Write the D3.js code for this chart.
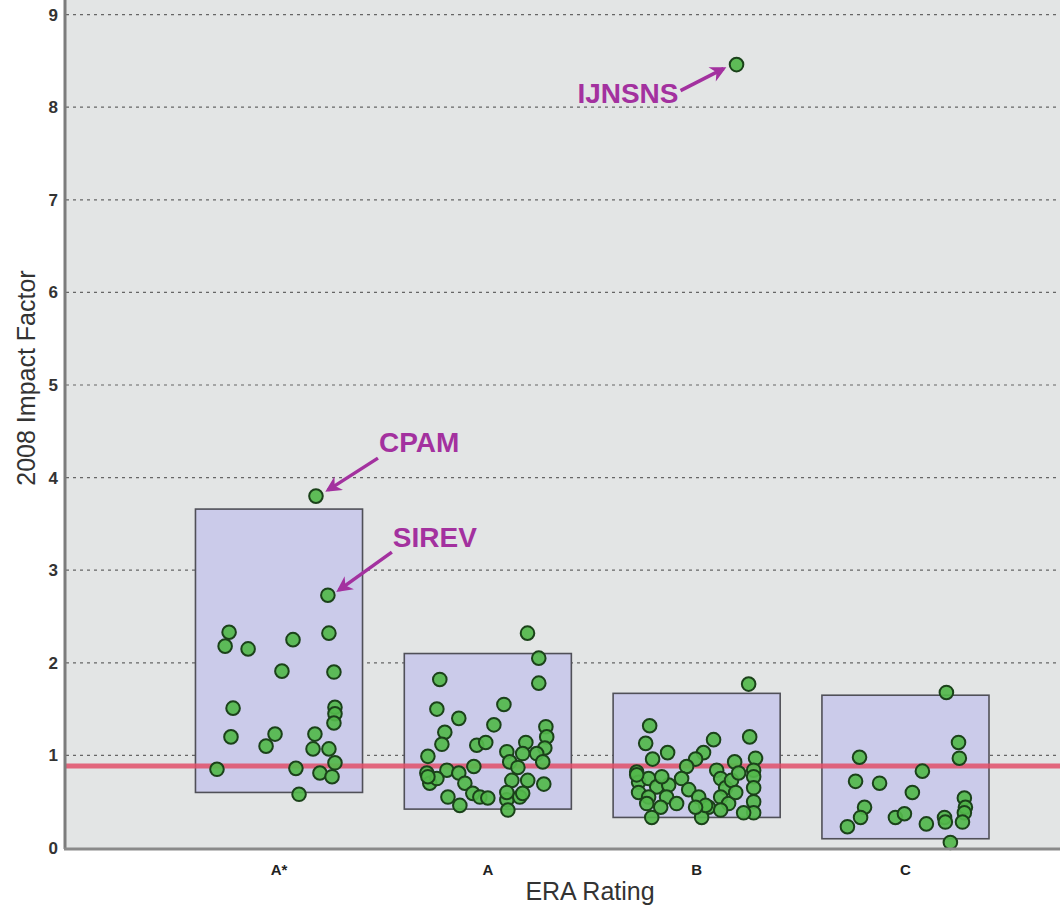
<!DOCTYPE html>
<html>
<head>
<meta charset="utf-8">
<script src="https://cdn.jsdelivr.net/npm/d3@7"></script>
<style>
    body { margin: 0; background: #fff; }
    svg { display: block; font-family: "Liberation Sans", Arial, sans-serif; }
    .gridLines { stroke: #666; stroke-width: 1.2; stroke-dasharray: 3,4; }
    .tickLabel { font-size: 17px; font-weight: bold; fill: #333; }
    .catLabel { font-size: 15px; font-weight: bold; fill: #222; }
    .axisTitle { font-size: 25px; fill: #333; }
    .note { font-size: 28px; font-weight: bold; fill: #a3319f; }
</style>
</head>
<body>
<script>
(function(){

    //categories and tick labels
    var categories = ["A*", "A", "B", "C"];
    var yTicks = [0, 1, 2, 3, 4, 5, 6, 7, 8, 9];

    //box range per category
    var boxLow = [0.60, 0.42, 0.33, 0.10];
    var boxHigh = [3.66, 2.10, 1.67, 1.65];

    //reference line (overall value)
    var refLine = 0.885;

    //journals per category: [jitter, impact factor]
    var ptsAStar = [
        [0.177, 3.80], [0.234, 2.73], [-0.239, 2.33], [-0.258, 2.18], [-0.148, 2.15],
        [0.067, 2.25], [0.239, 2.32], [0.014, 1.91], [0.263, 1.90], [-0.220, 1.51],
        [0.268, 1.52], [0.268, 1.45], [0.263, 1.35], [-0.230, 1.20], [-0.019, 1.23],
        [-0.062, 1.10], [0.172, 1.23], [0.163, 1.07], [0.239, 1.07], [-0.297, 0.85],
        [0.081, 0.86], [0.268, 0.92], [0.196, 0.81], [0.254, 0.77], [0.096, 0.58]
    ];
    var ptsA = [
        [0.190, 2.32], [0.244, 2.05], [0.244, 1.78], [-0.230, 1.82], [-0.244, 1.50],
        [0.077, 1.55], [-0.139, 1.40], [0.029, 1.33], [-0.206, 1.25], [-0.220, 1.12],
        [-0.053, 1.11], [-0.010, 1.14], [0.278, 1.31], [0.282, 1.20], [0.273, 1.08],
        [0.182, 1.14], [-0.287, 0.99], [0.091, 1.04], [0.167, 1.02], [0.234, 1.02],
        [0.263, 0.93], [0.105, 0.93], [0.144, 0.87], [-0.292, 0.81], [-0.196, 0.84],
        [-0.139, 0.81], [-0.067, 0.88], [-0.278, 0.70], [-0.244, 0.75], [-0.110, 0.70],
        [0.115, 0.73], [0.191, 0.73], [0.268, 0.69], [-0.191, 0.55], [-0.134, 0.46],
        [-0.072, 0.59], [-0.038, 0.55], [0.000, 0.54], [0.091, 0.52], [0.096, 0.41],
        [0.153, 0.55], [0.167, 0.59], [0.091, 0.60], [-0.287, 0.77]
    ];
    var ptsB = [
        [0.191, 8.46],
        [0.249, 1.77], [-0.225, 1.32], [-0.244, 1.13], [-0.139, 1.03], [-0.211, 0.96],
        [0.081, 1.17], [0.033, 1.03], [-0.005, 0.96], [-0.048, 0.88], [0.254, 1.20],
        [0.282, 0.97], [0.182, 0.93], [0.096, 0.84], [-0.287, 0.82], [-0.278, 0.71],
        [-0.230, 0.75], [-0.191, 0.66], [-0.134, 0.68], [-0.072, 0.75], [-0.278, 0.60],
        [-0.230, 0.55], [-0.144, 0.55], [-0.096, 0.48], [-0.038, 0.63], [0.010, 0.55],
        [0.057, 0.44], [0.115, 0.75], [0.139, 0.65], [0.167, 0.73], [0.201, 0.81],
        [0.115, 0.55], [0.153, 0.48], [0.115, 0.41], [0.273, 0.84], [0.273, 0.77],
        [0.273, 0.65], [0.273, 0.50], [0.273, 0.38], [0.225, 0.38], [-0.215, 0.33],
        [0.024, 0.33], [-0.239, 0.48], [-0.172, 0.44], [0.043, 0.46], [-0.005, 0.44],
        [0.187, 0.60], [-0.287, 0.79], [-0.167, 0.77]
    ];
    var ptsC = [
        [0.196, 1.68], [0.254, 1.14], [0.258, 0.97], [-0.220, 0.98], [0.081, 0.83],
        [-0.239, 0.72], [-0.124, 0.70], [0.033, 0.60], [-0.196, 0.44], [-0.215, 0.33],
        [-0.278, 0.23], [-0.048, 0.33], [-0.005, 0.37], [0.100, 0.26], [0.187, 0.33],
        [0.191, 0.28], [0.282, 0.54], [0.287, 0.44], [0.282, 0.38], [0.273, 0.28],
        [0.215, 0.06]
    ];
    var groups = [ptsAStar, ptsA, ptsB, ptsC];

    //labelled outliers: [category index, point index, name]
    var notes = [
        [0, 0, "CPAM"],
        [0, 1, "SIREV"],
        [2, 0, "IJNSNS"]
    ];

    window.onload = function(){
        setChart();
    };

    function setChart(){
        var width = 1060,
            height = 913;

        var plotLeft = 66,
            plotRight = width,
            plotTop = 0,
            plotBottom = 848;

        var svg = d3.select("body")
            .append("svg")
            .attr("width", width)
            .attr("height", height);

        //category i sits at x = i + 1
        var x = d3.scaleLinear()
            .domain([-0.02, 4.74])
            .range([plotLeft, plotRight]);

        var y = d3.scaleLinear()
            .domain([0, 9])
            .range([plotBottom, 14.6]);

        var boxHalf = 0.4;

        //plot background
        svg.append("rect")
            .attr("x", plotLeft)
            .attr("y", plotTop)
            .attr("width", plotRight - plotLeft)
            .attr("height", plotBottom - plotTop)
            .style("fill", "#e3e5e5");

        //dotted grid lines
        svg.selectAll(".gridLines")
            .data(yTicks.slice(1))
            .enter()
            .append("line")
            .attr("class", "gridLines")
            .attr("x1", plotLeft)
            .attr("x2", plotRight)
            .attr("y1", function(d){ return y(d); })
            .attr("y2", function(d){ return y(d); });

        //range boxes
        svg.selectAll(".boxes")
            .data(categories)
            .enter()
            .append("rect")
            .attr("class", "boxes")
            .attr("x", function(d, i){ return x(i + 1 - boxHalf); })
            .attr("width", function(){ return x(2 * boxHalf) - x(0); })
            .attr("y", function(d, i){ return y(boxHigh[i]); })
            .attr("height", function(d, i){ return y(boxLow[i]) - y(boxHigh[i]); })
            .style("fill", "#cbcbea")
            .style("stroke", "#505058")
            .style("stroke-width", 1.6);

        //reference line
        svg.append("line")
            .attr("x1", plotLeft)
            .attr("x2", plotRight)
            .attr("y1", y(refLine))
            .attr("y2", y(refLine))
            .style("stroke", "#e2506a")
            .style("stroke-opacity", 0.85)
            .style("stroke-width", 5);

        //journal points
        groups.forEach(function(pts, i){
            svg.selectAll(".pts" + i)
                .data(pts)
                .enter()
                .append("circle")
                .attr("class", "pts" + i)
                .attr("cx", function(d){ return x(i + 1 + d[0]); })
                .attr("cy", function(d){ return y(d[1]); })
                .attr("r", 6.8)
                .style("fill", "#52b84b")
                .style("fill-opacity", 0.92)
                .style("stroke", "#1b421a")
                .style("stroke-width", 2);
        });

        //axes lines
        svg.append("line")
            .attr("x1", plotLeft - 1)
            .attr("x2", plotLeft - 1)
            .attr("y1", plotTop)
            .attr("y2", plotBottom + 1)
            .style("stroke", "#7c7c7c")
            .style("stroke-width", 3);

        svg.append("line")
            .attr("x1", plotLeft - 2)
            .attr("x2", plotRight)
            .attr("y1", plotBottom + 1)
            .attr("y2", plotBottom + 1)
            .style("stroke", "#8a8a8a")
            .style("stroke-width", 3);

        //tick labels
        svg.selectAll(".tickLabel")
            .data(yTicks)
            .enter()
            .append("text")
            .attr("class", "tickLabel")
            .attr("text-anchor", "end")
            .attr("x", 58)
            .attr("y", function(d){ return y(d) + 6; })
            .text(function(d){ return d; });

        svg.selectAll(".catLabel")
            .data(categories)
            .enter()
            .append("text")
            .attr("class", "catLabel")
            .attr("text-anchor", "middle")
            .attr("x", function(d, i){ return x(i + 1); })
            .attr("y", 875)
            .text(function(d){ return d; });

        //axis titles
        svg.append("text")
            .attr("class", "axisTitle")
            .attr("text-anchor", "middle")
            .attr("transform", "translate(35,378) rotate(-90)")
            .text("2008 Impact Factor");

        svg.append("text")
            .attr("class", "axisTitle")
            .attr("text-anchor", "middle")
            .attr("x", 590)
            .attr("y", 900)
            .text("ERA Rating");

        setNotes(svg, x, y);
    };

    //annotate the outliers with arrows
    function setNotes(svg, x, y){
        var noteColor = "#a3319f";

        svg.append("defs")
            .append("marker")
            .attr("id", "arrowHead")
            .attr("viewBox", "0 0 10 10")
            .attr("refX", 8)
            .attr("refY", 5)
            .attr("markerWidth", 20)
            .attr("markerHeight", 16)
            .attr("markerUnits", "userSpaceOnUse")
            .attr("orient", "auto")
            .append("path")
            .attr("d", "M0,0 L10,5 L0,10 L3,5 Z")
            .style("fill", noteColor);

        //text and arrow offsets from the point, in pixels
        var layout = {
            "CPAM":   { tx: 63, ty: -44, anchor: "start", ax: 62, ay: -38, hx: 12, hy: -6 },
            "SIREV":  { tx: 65, ty: -48, anchor: "start", ax: 64, ay: -43, hx: 11, hy: -5 },
            "IJNSNS": { tx: -58, ty: 38, anchor: "end", ax: -56, ay: 26, hx: -13, hy: 4 }
        };

        notes.forEach(function(n){
            var d = groups[n[0]][n[1]];
            var px = x(n[0] + 1 + d[0]),
                py = y(d[1]),
                l = layout[n[2]];

            svg.append("line")
                .attr("x1", px + l.ax)
                .attr("y1", py + l.ay)
                .attr("x2", px + l.hx)
                .attr("y2", py + l.hy)
                .attr("marker-end", "url(#arrowHead)")
                .style("stroke", noteColor)
                .style("stroke-width", 3.5);

            svg.append("text")
                .attr("class", "note")
                .attr("text-anchor", l.anchor)
                .attr("x", px + l.tx)
                .attr("y", py + l.ty)
                .text(n[2]);
        });
    };

})();
</script>
</body>
</html>
